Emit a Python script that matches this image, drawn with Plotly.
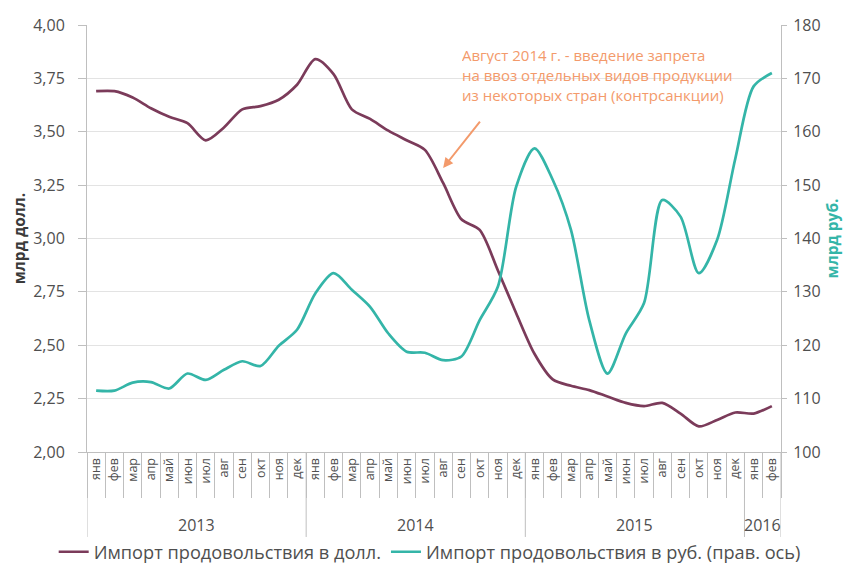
import plotly.graph_objects as go

months = ["янв", "фев", "мар", "апр", "май", "июн", "июл", "авг", "сен", "окт", "ноя", "дек"] * 3 + ["янв", "фев"]
years = ["2013", "2014", "2015", "2016"]
year_counts = [12, 12, 12, 2]

usd = [3.69, 3.69, 3.66, 3.61, 3.57, 3.54, 3.46, 3.52, 3.605, 3.62, 3.65, 3.72,
       3.84, 3.77, 3.605, 3.56, 3.505, 3.46, 3.415, 3.26, 3.09, 3.04, 2.85, 2.65,
       2.46, 2.34, 2.31, 2.29, 2.26, 2.23, 2.215, 2.23, 2.18, 2.12, 2.15, 2.185,
       2.18, 2.215]
rub = [111.5, 111.5, 113.0, 113.1, 111.9, 114.7, 113.5, 115.4, 117.0, 116.1, 119.9, 122.9,
       129.7, 133.5, 130.4, 127.2, 122.2, 118.8, 118.6, 117.2, 117.9, 124.7, 131.0, 149.7,
       156.9, 151.0, 141.6, 124.7, 114.7, 122.2, 127.9, 147.2, 144.1, 133.5, 139.7, 155.0,
       168.5, 171.0]

name_usd = "Импорт продовольствия в долл."
name_rub = "Импорт продовольствия в руб. (прав. ось)"
note_lines = ["Август 2014 г. - введение запрета",
              "на ввоз отдельных видов продукции",
              "из некоторых стран (контрсанкции)"]

C_USD = "#7B3B5A"
C_RUB = "#34B5A8"
C_NOTE = "#F39A6B"
FONT = "Open Sans"
GREY = "#4F4F4F"
AX = "#BFBFBF"

idx = list(range(len(months)))

fig = go.Figure()
fig.add_trace(go.Scatter(x=idx, y=usd, name=name_usd, mode="lines",
                         line=dict(color=C_USD, width=2.7, shape="spline", smoothing=0.8)))
fig.add_trace(go.Scatter(x=idx, y=rub, name=name_rub, mode="lines", yaxis="y2",
                         line=dict(color=C_RUB, width=2.7, shape="spline", smoothing=0.8)))

boundaries = [i - 0.5 for i in idx] + [len(idx) - 0.5]

fig.update_layout(
    width=851, height=571,
    margin=dict(l=79, r=78, t=17, b=127, autoexpand=False),
    paper_bgcolor="white", plot_bgcolor="white",
    font=dict(family=FONT, color=GREY, size=16),
    showlegend=True,
    legend=dict(orientation="h", x=-0.048, xanchor="left", y=-0.234, yanchor="middle",
                font=dict(size=18.2, color=GREY), itemwidth=30, tracegroupgap=0,
                bgcolor="rgba(0,0,0,0)"),
    xaxis=dict(range=[-0.5, len(idx) - 0.5], tickvals=idx, ticktext=months, tickangle=-90,
               tickfont=dict(size=12.5, color=GREY), ticks="", showgrid=False, zeroline=False,
               showline=True, linecolor=AX, linewidth=1, automargin=False,
               minor=dict(tickvals=boundaries, ticks="outside", ticklen=45, tickcolor=AX,
                          tickwidth=1, showgrid=False)),
    yaxis=dict(range=[2.0, 4.0], tickvals=[2.0 + 0.25 * k for k in range(9)],
               ticktext=[f"{2.0 + 0.25 * k:.2f}".replace(".", ",") for k in range(9)],
               showgrid=True, gridcolor="#E3E3E3", gridwidth=1, zeroline=False, automargin=False,
               showline=True, linecolor=AX, ticks="outside", ticklen=8, tickcolor=AX,
               ticklabelstandoff=10,
               tickfont=dict(size=16, color=GREY),
               title=dict(text="<b>млрд долл.</b>", font=dict(size=15.5, color="#3A3A3A"), standoff=6)),
    yaxis2=dict(range=[100, 180], tickvals=list(range(100, 181, 10)), overlaying="y", side="right",
                showgrid=False, zeroline=False, showline=True, linecolor=AX, ticks="outside",
                ticklen=5, tickcolor=AX, tickfont=dict(size=16, color=GREY), automargin=False,
                ticklabelstandoff=3,
                title=dict(text="<b>млрд руб.</b>", font=dict(size=15.5, color=C_RUB), standoff=6)),
)

# year labels and separators
start = 0
for yr, cnt in zip(years, year_counts):
    center = start + (cnt - 1) / 2
    fig.add_annotation(x=center, y=-0.171, xref="x", yref="paper", text=yr, showarrow=False,
                       font=dict(size=16, color=GREY), yanchor="middle")
    start += cnt
sep = [-0.5]
acc = -0.5
for cnt in year_counts:
    acc += cnt
    sep.append(acc)
for s in sep:
    fig.add_shape(type="line", xref="x", yref="paper", x0=s, x1=s, y0=0, y1=-0.199,
                  line=dict(color=AX, width=1))

# sanctions note
fig.add_annotation(x=19, y=3.33, xref="x", yref="y", ax=38, ay=-48, text="", showarrow=True,
                   arrowhead=2, arrowsize=1, arrowwidth=2, arrowcolor=C_NOTE, standoff=0)
for k, line in enumerate(note_lines):
    fig.add_annotation(x=19.95, y=3.858 - 0.092 * k, xref="x", yref="y", text=line,
                       showarrow=False, xanchor="left", yanchor="middle", height=18,
                       font=dict(size=15, color=C_NOTE))

fig.write_html("out.html")
